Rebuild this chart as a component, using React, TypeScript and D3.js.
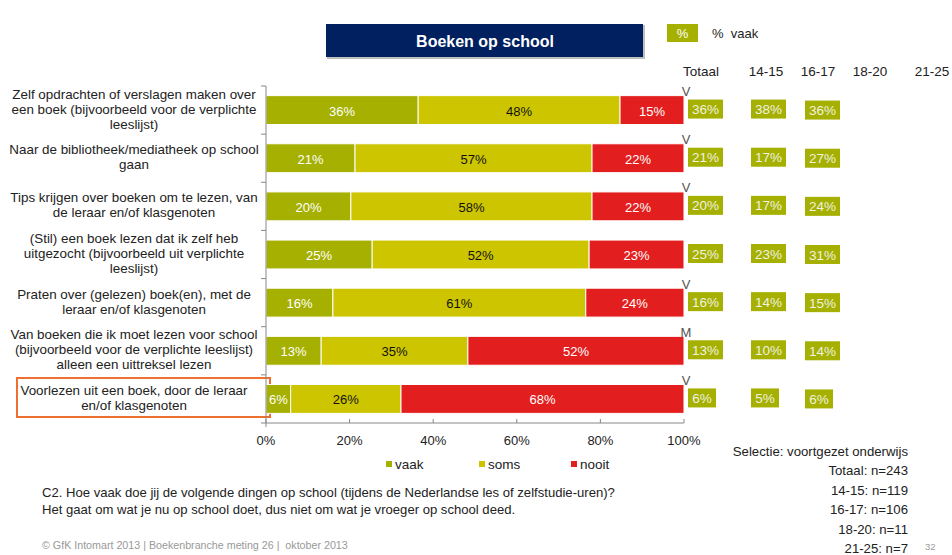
import React from "react";
import * as d3 from "d3";

const categories: string[][] = [
  ["Zelf opdrachten of verslagen maken over", "een boek (bijvoorbeeld voor de verplichte", "leeslijst)"],
  ["Naar de bibliotheek/mediatheek op school", "gaan"],
  ["Tips krijgen over boeken om te lezen, van", "de leraar en/of klasgenoten"],
  ["(Stil) een boek lezen dat ik zelf heb", "uitgezocht (bijvoorbeeld uit verplichte", "leeslijst)"],
  ["Praten over (gelezen) boek(en), met de", "leraar en/of klasgenoten"],
  ["Van boeken die ik moet lezen voor school", "(bijvoorbeeld voor de verplichte leeslijst)", "alleen een uittreksel lezen"],
  ["Voorlezen uit een boek, door de leraar", "en/of klasgenoten"],
];
const vaak = [36.4, 21.3, 20.3, 25.4, 16.0, 13.2, 5.9];
const soms = [48.3, 56.7, 57.7, 51.9, 60.5, 35.1, 26.4];
const nooit = [15.3, 22.0, 22.0, 22.7, 23.5, 51.7, 67.7];
const markers = ["V", "V", "V", "", "V", "M", "V"];
const totaal = [36, 21, 20, 25, 16, 13, 6];
const age1415 = [38, 17, 17, 23, 14, 10, 5];
const age1617 = [36, 27, 24, 31, 15, 14, 6];
const columnHeaders = ["Totaal", "14-15", "16-17", "18-20", "21-25"];
const xTicks = [0, 20, 40, 60, 80, 100];
const seriesNames = ["vaak", "soms", "nooit"];
const sampleLines = [
  "Selectie: voortgezet onderwijs",
  "Totaal: n=243",
  "14-15: n=119",
  "16-17: n=106",
  "18-20: n=11",
  "21-25: n=7",
];

const colors = ["#A5B000", "#CDC500", "#E31E1E"];
const labelColors = ["#ffffff", "#111111", "#ffffff"];
const FONT = "Liberation Sans, Arial, sans-serif";

export default function App() {
  const W = 952, H = 555;
  const x = d3.scaleLinear().domain([0, 100]).range([266, 684]);
  const y = d3.scaleBand<number>().domain(d3.range(categories.length)).range([86, 423]).paddingInner(0.4).paddingOuter(0.2);
  const band = d3.scaleBand<number>().domain(d3.range(categories.length)).range([86, 423]);
  const rows = categories.map((c, i) => ({ i, vals: [vaak[i], soms[i], nooit[i]] }));
  const stack = d3.stack<any>().keys(["0", "1", "2"]).value((d: any, k: string) => d.vals[+k]);
  const stacked = stack(rows as any);

  const colX = [688, 751, 805];
  const colVals = [totaal, age1415, age1617];
  const headerX = [701, 766, 818, 870, 932];

  return (
    <svg width={W} height={H} style={{ position: "absolute", left: 0, top: 0, background: "#fff" }} fontFamily={FONT}>
      {/* title */}
      <rect x={327} y={25} width={318} height={34} fill="#BFBFBF" />
      <rect x={326} y={24} width={317} height={33} fill="#002060" />
      <text x={485} y={41} textAnchor="middle" dominantBaseline="central" fill="#fff" fontWeight="bold" fontSize={16}>Boeken op school</text>
      <rect x={667} y={24} width={31} height={18} fill={colors[0]} />
      <text x={682.5} y={33.5} textAnchor="middle" dominantBaseline="central" fill="#fff" fontSize={13}>%</text>
      <text x={712} y={33.5} dominantBaseline="central" fill="#222" fontSize={13} xmlSpace="preserve">%  vaak</text>
      {columnHeaders.map((h, k) => (
        <text key={h} x={headerX[k]} y={71} textAnchor="middle" dominantBaseline="central" fill="#222" fontSize={13.5}>{h}</text>
      ))}

      {/* category labels */}
      {categories.map((lines, i) => {
        const cy = (band(i) as number) + band.bandwidth() / 2 - 1;
        const lh = 15;
        return (
          <text key={i} textAnchor="middle" fill="#222" fontSize={13.4}>
            {lines.map((l, j) => (
              <tspan key={j} x={134} y={cy + (j - (lines.length - 1) / 2) * lh} dominantBaseline="central">{l}</tspan>
            ))}
          </text>
        );
      })}
      <rect x={17} y={378} width={253} height={39} fill="none" stroke="#EE7030" strokeWidth={2} />

      {/* bars */}
      {stacked.map((s, k) =>
        s.map((d, i) => {
          const x0 = x(d[0]), x1 = x(d[1]);
          const yy = y(i) as number;
          return (
            <g key={k + "-" + i}>
              <rect x={x0} y={yy} width={x1 - x0} height={y.bandwidth()} fill={colors[k]} stroke="#fff" strokeWidth={1} />
              <text x={(x0 + x1) / 2} y={yy + y.bandwidth() / 2 + 1} textAnchor="middle" dominantBaseline="central" fill={labelColors[k]} fontSize={13}>
                {Math.round(d[1] - d[0])}%
              </text>
            </g>
          );
        })
      )}

      {/* axes */}
      <line x1={266} x2={266} y1={86} y2={427} stroke="#888" />
      {d3.range(categories.length + 1).map((i) => {
        const yy = i === categories.length ? 423 : (band(i) as number);
        return <line key={i} x1={261} x2={266} y1={yy} y2={yy} stroke="#888" />;
      })}
      <line x1={266} x2={684} y1={423} y2={423} stroke="#888" />
      {xTicks.map((t) => (
        <g key={t}>
          <line x1={x(t)} x2={x(t)} y1={419} y2={423} stroke="#888" />
          <text x={x(t)} y={440} textAnchor="middle" dominantBaseline="central" fill="#222" fontSize={13}>{t}%</text>
        </g>
      ))}

      {/* markers */}
      {markers.map((m, i) => (m ? (
        <text key={i} x={686} y={(y(i) as number) - 4} textAnchor="middle" dominantBaseline="central" fill="#555" fontSize={13}>{m}</text>
      ) : null))}

      {/* right columns */}
      {colVals.map((vals, c) =>
        vals.map((v, i) => {
          const w = v < 10 ? 28 : 35;
          const cy = (y(i) as number) + y.bandwidth() / 2 - 1 + (c === 2 ? 1 : 0);
          return (
            <g key={c + "-" + i}>
              <rect x={colX[c]} y={cy - 9.5} width={w} height={19} fill={colors[0]} />
              <text x={colX[c] + w / 2} y={cy + 0.5} textAnchor="middle" dominantBaseline="central" fill="#F2F2E0" fontSize={13.5}>{v}%</text>
            </g>
          );
        })
      )}

      {/* legend */}
      {seriesNames.map((n, k) => {
        const lx = [386, 479, 571][k];
        return (
          <g key={n}>
            <rect x={lx} y={461} width={6} height={6} fill={colors[k]} />
            <text x={lx + 9} y={464} dominantBaseline="central" fill="#222" fontSize={13.5}>{n}</text>
          </g>
        );
      })}

      {/* notes */}
      {sampleLines.map((l, k) => (
        <text key={k} x={908} y={451 + k * 19.5} textAnchor="end" dominantBaseline="central" fill="#222" fontSize={13.2}>{l}</text>
      ))}
      <text x={925} y={546} fill="#999" fontSize={9.5} dominantBaseline="central">32</text>
      <text x={42} y={492} dominantBaseline="central" fill="#222" fontSize={13.1}>C2. Hoe vaak doe jij de volgende dingen op school (tijdens de Nederlandse les of zelfstudie-uren)?</text>
      <text x={42} y={509} dominantBaseline="central" fill="#222" fontSize={13.1}>Het gaat om wat je nu op school doet, dus niet om wat je vroeger op school deed.</text>
      <text x={42} y={545} dominantBaseline="central" fill="#999" fontSize={10.7} xmlSpace="preserve">© GfK Intomart 2013 | Boekenbranche meting 26 |  oktober 2013</text>
    </svg>
  );
}
